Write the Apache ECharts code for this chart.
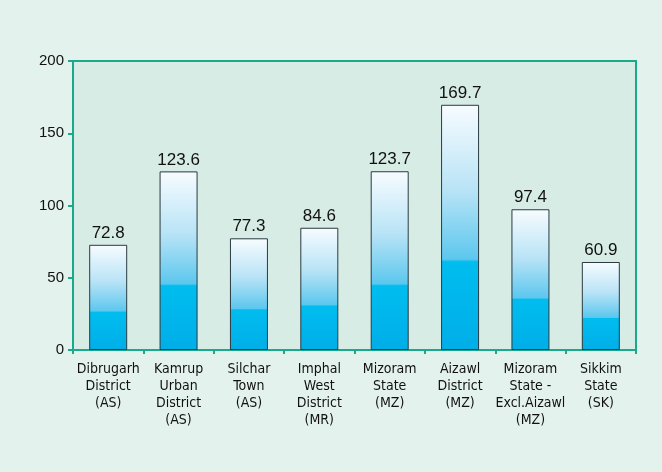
<!DOCTYPE html>
<html>
<head>
<meta charset="utf-8">
<script src="https://cdn.jsdelivr.net/npm/echarts@6/dist/echarts.min.js"></script>
<style>
  html, body { margin: 0; padding: 0; background: #e4f2ee; }
  #chart { width: 662px; height: 472px; }
</style>
</head>
<body>
<div id="chart"></div>
<script>
// 类目与数值
const categories = [
  'Dibrugarh\nDistrict\n(AS)',
  'Kamrup\nUrban\nDistrict\n(AS)',
  'Silchar\nTown\n(AS)',
  'Imphal\nWest\nDistrict\n(MR)',
  'Mizoram\nState\n(MZ)',
  'Aizawl\nDistrict\n(MZ)',
  'Mizoram\nState -\nExcl.Aizawl\n(MZ)',
  'Sikkim\nState\n(SK)'
];
const values = [72.8, 123.6, 77.3, 84.6, 123.7, 169.7, 97.4, 60.9];

const teal = '#1ba98b';
const narrow = '"DejaVu Sans Condensed", sans-serif';
const sans = '"Liberation Sans", Arial, sans-serif';

const chart = echarts.init(document.getElementById('chart'));

const option = {
  backgroundColor: '#e4f2ee',
  animation: false,
  grid: {
    left: 73, right: 26, top: 61, bottom: 122,
    show: true,
    backgroundColor: '#d7ece5',
    borderColor: teal,
    borderWidth: 2
  },
  xAxis: {
    type: 'category',
    data: categories,
    axisLine: {lineStyle: {color: teal, width: 2}},
    axisTick: {show: true, inside: false, length: 4, lineStyle: {color: teal, width: 2}},
    axisLabel: {color: '#111', fontSize: 14, fontFamily: narrow, lineHeight: 17, margin: 11, interval: 0}
  },
  yAxis: {
    type: 'value',
    min: 0, max: 200, interval: 50,
    axisLine: {show: true, lineStyle: {color: teal, width: 2}},
    axisTick: {show: true, length: 5, lineStyle: {color: teal, width: 2}},
    axisLabel: {color: '#111', fontSize: 15, fontFamily: sans, margin: 9},
    splitLine: {show: false}
  },
  series: [
    {
      type: 'bar',
      data: values,
      barWidth: 38,
      itemStyle: {
        color: new echarts.graphic.LinearGradient(0, 0, 0, 1, [
          {offset: 0, color: '#f7fcff'},
          {offset: 0.35, color: '#b8e3f6'},
          {offset: 0.63, color: '#5cc7ee'},
          {offset: 0.64, color: '#00bdef'},
          {offset: 1, color: '#00aee8'}
        ]),
        borderColor: '#2a3a40',
        borderWidth: 1
      },
      label: {
        show: true,
        position: 'top',
        distance: 3,
        color: '#111',
        fontSize: 17,
        fontFamily: sans
      }
    }
  ]
};

chart.setOption(option);
</script>
</body>
</html>
